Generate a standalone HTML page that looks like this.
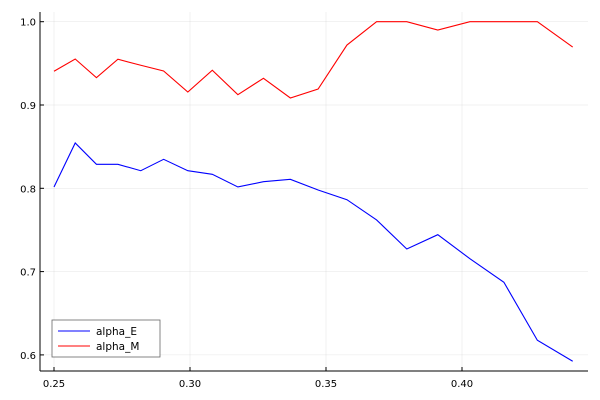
<!DOCTYPE html>
<html><head><meta charset="utf-8"><style>
body{margin:0;background:#fff}
svg{display:block;font-family:"DejaVu Sans","Liberation Sans",sans-serif}
</style></head><body>
<svg id="chart" width="600" height="400"></svg>
<script>
const xValues=[0.25,0.2578,0.2656,0.2735,0.2819,0.2903,0.2992,0.3082,0.3176,0.3270,0.3369,0.3471,0.3577,0.3686,0.3797,0.3911,0.4029,0.4154,0.4277,0.4407];
const alphaE=[0.8016,0.8544,0.8288,0.8288,0.8211,0.8348,0.8211,0.8168,0.8016,0.8079,0.8108,0.798,0.7863,0.762,0.7271,0.7443,0.7155,0.6872,0.6176,0.5924];
const alphaM=[0.9405,0.9552,0.9328,0.9549,0.9477,0.9408,0.9156,0.9417,0.9124,0.9321,0.9084,0.9192,0.972,1.0,1.0,0.990,1.0,1.0,1.0,0.9696];
const xTicks=[0.25,0.30,0.35,0.40];
const yTicks=[0.6,0.7,0.8,0.9,1.0];
const NS="http://www.w3.org/2000/svg";
const svg=document.getElementById('chart');
const L=40,R=588,T=12,B=371;
const sx=v=>54+(v-0.25)/0.05*136;
const sy=v=>21.7+(1-v)/0.1*83.3;
function mk(t,a){const e=document.createElementNS(NS,t);for(const k in a)e.setAttribute(k,a[k]);svg.appendChild(e);return e;}
xTicks.forEach(v=>{
 const g=mk('line',{x1:sx(v),x2:sx(v),y1:T,y2:B,stroke:'#000','stroke-opacity':0.1,'stroke-width':0.5});
 
 
 const tk=mk('line',{x1:sx(v),x2:sx(v),y1:B,y2:B-4,stroke:'#000'});
 
 
 const t=mk('text',{x:sx(v),y:B+16,'text-anchor':'middle','font-size':10,fill:'#000'});
 t.textContent=v.toFixed(2);
 
 
});
yTicks.forEach(v=>{
 const g=mk('line',{x1:L,x2:R,y1:sy(v),y2:sy(v),stroke:'#000','stroke-opacity':0.1,'stroke-width':0.5});
 
 
 const tk=mk('line',{x1:L,x2:L+4,y1:sy(v),y2:sy(v),stroke:'#000'});
 
 
 const t=mk('text',{x:L-4,y:sy(v)+4,'text-anchor':'end','font-size':10,fill:'#000'});
 t.textContent=v.toFixed(1);
 
 
});
const ax=mk('line',{x1:L,x2:R,y1:B,y2:B,stroke:'#000'});


const ay=mk('line',{x1:L,x2:L,y1:T,y2:B,stroke:'#000'});


function series(vals,color,name){
 const p=mk('polyline',{points:xValues.map((x,i)=>sx(x)+','+sy(vals[i])).join(' '),fill:'none',stroke:color,'stroke-width':1.1});
 
 
}
series(alphaE,'#0000ff','alpha-e-line');
series(alphaM,'#ff0000','alpha-m-line');
const lg=mk('rect',{x:52,y:320,width:108,height:37,fill:'#fff',stroke:'#000','stroke-opacity':0.6,'stroke-width':0.8});


[['alpha_E','#0000ff',331],['alpha_M','#ff0000',346]].forEach(([n,c,y])=>{
 const l=mk('line',{x1:58,x2:90,y1:y,y2:y,stroke:c,'stroke-width':1.1});
 
 
 const t=mk('text',{x:96,y:y+4,'font-size':10.5,fill:'#000'});
 t.textContent=n;
 
 
});
</script>
</body></html>
